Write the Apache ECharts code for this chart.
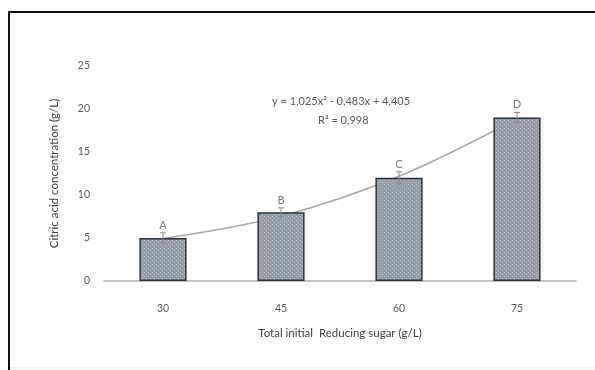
<!DOCTYPE html>
<html>
<head>
<meta charset="utf-8">
<script src="https://cdn.jsdelivr.net/npm/echarts@6/dist/echarts.min.js"></script>
<style>
  html, body { margin: 0; padding: 0; background: #fff; }
  #chart { width: 595px; height: 370px; }
</style>
</head>
<body>
<div id="chart"></div>
<script>
// Total initial reducing sugar (g/L)
const categories = ['30', '45', '60', '75'];
// Citric acid concentration (g/L)
const barValues = [5.0, 8.0, 12.0, 19.0];
// Standard error above / below each bar
const errValues = [0.6, 0.5, 0.7, 0.6];
// Significance letters
const groupLetters = ['A', 'B', 'C', 'D'];
// Polynomial trend line evaluated at each category
const trendValues = [4.95, 7.54, 12.18, 18.87];
// Y axis ticks
const yTicks = [0, 5, 10, 15, 20, 25];

const equationText = 'y = 1,025x\u00B2 - 0,483x + 4,405';
const r2Text = 'R\u00B2 = 0,998';

// Dotted grey fill for the bars
function dottedPattern() {
  const c = document.createElement('canvas');
  c.width = 4; c.height = 4;
  const g = c.getContext('2d');
  g.fillStyle = '#969ca4';
  g.fillRect(0, 0, 4, 4);
  g.fillStyle = '#bfc3c8';
  g.fillRect(0, 0, 1, 1);
  g.fillRect(2, 2, 1, 1);
  return c;
}

const font = 'Lato, "Open Sans", sans-serif';
const chart = echarts.init(document.getElementById('chart'), null, { renderer: 'canvas' });

chart.setOption({
  animation: false,
  backgroundColor: '#ffffff',
  grid: { left: 104, right: 19, top: 66, bottom: 89, containLabel: false },
  xAxis: {
    type: 'category',
    data: categories,
    name: 'Total initial  Reducing sugar (g/L)',
    nameLocation: 'middle',
    nameGap: 46,
    nameTextStyle: { fontFamily: font, fontSize: 11.5, color: '#404040' },
    axisLine: { lineStyle: { color: '#c4c4c4', width: 2 } },
    axisTick: { show: false },
    axisLabel: { fontFamily: font, fontSize: 10.5, color: '#595959', margin: 22 }
  },
  yAxis: {
    type: 'value',
    min: yTicks[0],
    max: yTicks[yTicks.length - 1],
    interval: yTicks[1] - yTicks[0],
    name: 'Citric acid concentration (g/L)',
    nameLocation: 'middle',
    nameGap: 44,
    nameRotate: 90,
    nameTextStyle: { fontFamily: font, fontSize: 11.5, color: '#404040' },
    axisLine: { show: false },
    axisTick: { show: false },
    splitLine: { show: false },
    axisLabel: { fontFamily: font, fontSize: 10.5, color: '#595959', margin: 14 }
  },
  series: [
    {
      name: 'trend',
      type: 'line',
      data: trendValues,
      smooth: 0.35,
      symbol: 'none',
      z: 1,
      lineStyle: { color: '#a9a9a9', width: 1.5 }
    },
    {
      name: 'citric acid',
      type: 'bar',
      data: barValues,
      barWidth: '40%',
      z: 2,
      itemStyle: {
        color: { image: dottedPattern(), repeat: 'repeat' },
        borderColor: '#2b323b',
        borderWidth: 1.5
      }
    },
    {
      name: 'error',
      type: 'custom',
      z: 3,
      data: barValues.map((v, i) => [i, v, errValues[i]]),
      renderItem: function (params, api) {
        const i = api.value(0);
        const v = api.value(1);
        const e = api.value(2);
        const hi = api.coord([i, v + e]);
        const lo = api.coord([i, v - e]);
        const cap = 3;
        const style = { stroke: '#8c8c8c', lineWidth: 1 };
        return {
          type: 'group',
          children: [
            { type: 'line', shape: { x1: hi[0], y1: hi[1], x2: lo[0], y2: lo[1] }, style: style },
            { type: 'line', shape: { x1: hi[0] - cap, y1: hi[1], x2: hi[0] + cap, y2: hi[1] }, style: style },
            { type: 'line', shape: { x1: lo[0] - cap, y1: lo[1], x2: lo[0] + cap, y2: lo[1] }, style: style },
            {
              type: 'text',
              style: {
                text: groupLetters[i],
                x: hi[0],
                y: hi[1] - 2,
                align: 'center',
                verticalAlign: 'bottom',
                fontFamily: font,
                fontSize: 11,
                fill: '#7a7a7a'
              }
            }
          ]
        };
      }
    }
  ],
  graphic: [
    {
      type: 'rect',
      shape: { x: 9, y: 12, width: 620, height: 400 },
      style: { fill: 'none', stroke: '#111', lineWidth: 2 },
      silent: true
    },
    {
      type: 'line',
      shape: { x1: 10, y1: 368, x2: 595, y2: 368 },
      style: { stroke: '#e2e2e2', lineWidth: 1 },
      silent: true
    },
    {
      type: 'text',
      left: 272,
      top: 96,
      style: { text: equationText, fontFamily: font, fontSize: 11, fill: '#595959' }
    },
    {
      type: 'text',
      left: 318,
      top: 115,
      style: { text: r2Text, fontFamily: font, fontSize: 11, fill: '#595959' }
    }
  ]
});
</script>
</body>
</html>
